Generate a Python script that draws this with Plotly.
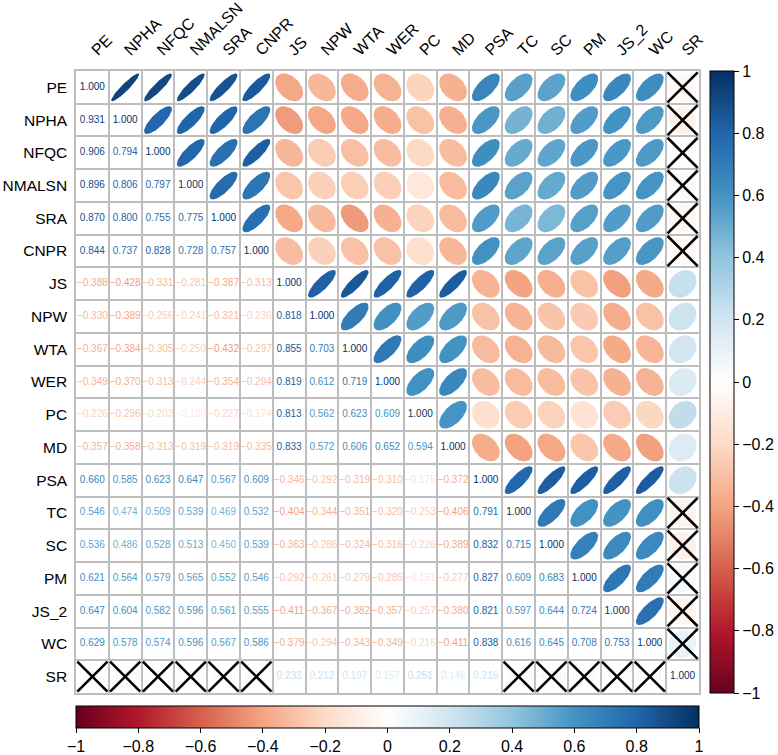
import numpy as np
import plotly.graph_objects as go

labels = ["PE", "NPHA", "NFQC", "NMALSN", "SRA", "CNPR", "JS", "NPW", "WTA",
          "WER", "PC", "MD", "PSA", "TC", "SC", "PM", "JS_2", "WC", "SR"]

# lower triangle of the correlation matrix, one row per variable
r_npha = [0.931]
r_nfqc = [0.906, 0.794]
r_nmalsn = [0.896, 0.806, 0.797]
r_sra = [0.870, 0.800, 0.755, 0.775]
r_cnpr = [0.844, 0.737, 0.828, 0.728, 0.757]
r_js = [-0.388, -0.428, -0.331, -0.281, -0.387, -0.313]
r_npw = [-0.330, -0.389, -0.256, -0.241, -0.321, -0.236, 0.818]
r_wta = [-0.367, -0.384, -0.305, -0.250, -0.432, -0.297, 0.855, 0.703]
r_wer = [-0.349, -0.370, -0.313, -0.244, -0.354, -0.294, 0.819, 0.612, 0.719]
r_pc = [-0.226, -0.296, -0.203, -0.130, -0.227, -0.174, 0.813, 0.562, 0.623, 0.609]
r_md = [-0.357, -0.358, -0.313, -0.319, -0.319, -0.335, 0.833, 0.572, 0.606, 0.652, 0.594]
r_psa = [0.660, 0.585, 0.623, 0.647, 0.567, 0.609, -0.346, -0.292, -0.319, -0.310,
         -0.175, -0.372]
r_tc = [0.546, 0.474, 0.509, 0.539, 0.469, 0.532, -0.404, -0.344, -0.351, -0.320,
        -0.253, -0.406, 0.791]
r_sc = [0.536, 0.486, 0.528, 0.513, 0.450, 0.539, -0.363, -0.286, -0.324, -0.316,
        -0.226, -0.389, 0.832, 0.715]
r_pm = [0.621, 0.564, 0.579, 0.565, 0.552, 0.546, -0.292, -0.261, -0.279, -0.285,
        -0.151, -0.277, 0.827, 0.609, 0.683]
r_js2 = [0.647, 0.604, 0.582, 0.596, 0.561, 0.555, -0.411, -0.367, -0.382, -0.357,
         -0.257, -0.380, 0.821, 0.597, 0.644, 0.724]
r_wc = [0.629, 0.578, 0.574, 0.596, 0.567, 0.586, -0.379, -0.294, -0.343, -0.349,
        -0.216, -0.411, 0.838, 0.616, 0.645, 0.708, 0.753]
r_sr = [-0.041, -0.079, 0.021, 0.033, -0.052, -0.038, 0.233, 0.212, 0.197, 0.157,
        0.251, 0.146, 0.216, -0.069, -0.081, 0.036, -0.058, 0.101]

lower_rows = [[], r_npha, r_nfqc, r_nmalsn, r_sra, r_cnpr, r_js, r_npw, r_wta, r_wer,
              r_pc, r_md, r_psa, r_tc, r_sc, r_pm, r_js2, r_wc, r_sr]

# pairs that are not significant (crossed out)
insig_sr = ["PE", "NPHA", "NFQC", "NMALSN", "SRA", "CNPR", "TC", "SC", "PM", "JS_2", "WC"]

cbar_ticks = [-1, -0.8, -0.6, -0.4, -0.2, 0, 0.2, 0.4, 0.6, 0.8, 1]

RDBU = ["#67001F", "#B2182B", "#D6604D", "#F4A582", "#FDDBC7", "#FFFFFF",
        "#D1E5F0", "#92C5DE", "#4393C3", "#2166AC", "#053061"]


def hex_rgb(h):
    return [int(h[k:k + 2], 16) for k in (1, 3, 5)]


def col(v):
    t = (v + 1) / 2 * 10
    i = min(int(t), 9)
    f = t - i
    a, b = hex_rgb(RDBU[i]), hex_rgb(RDBU[i + 1])
    c = [round(a[k] + (b[k] - a[k]) * f) for k in range(3)]
    return f"rgb({c[0]},{c[1]},{c[2]})"


def fmt(v):
    s = f"{v:.3f}"
    return s.replace("-", "\u2212")


n = len(labels)
m = np.eye(n)
for i, row in enumerate(lower_rows):
    for j, v in enumerate(row):
        m[i, j] = v
        m[j, i] = v

sr = labels.index("SR")
insig = [(sr, labels.index(l)) for l in insig_sr]

fig = go.Figure()

# ellipses in the upper triangle
k = np.linspace(0, 2 * np.pi, 99)
for i in range(n):
    for j in range(i + 1, n):
        r = m[i, j]
        a = np.arccos(r)
        cy = n - 1 - i
        fig.add_scatter(
            x=j + 0.85 * np.cos(k + a / 2) / 2,
            y=cy + 0.85 * np.cos(k - a / 2) / 2,
            mode="lines",
            fill="toself",
            fillcolor=col(r),
            line=dict(width=0, color=col(r)),
            hoverinfo="skip",
            showlegend=False,
        )

# numbers in the lower triangle
tx, ty, tt, tc = [], [], [], []
for i in range(n):
    for j in range(i + 1):
        tx.append(j)
        ty.append(n - 1 - i)
        tt.append(fmt(m[i, j]))
        tc.append(col(m[i, j]))
fig.add_scatter(
    x=tx, y=ty, text=tt, mode="text",
    textfont=dict(family="Liberation Sans", size=10, color=tc),
    hoverinfo="skip", showlegend=False,
)

# crosses on insignificant cells
xx, xy = [], []
d = 0.46
for i, j in insig:
    for a, b in ((i, j), (j, i)):
        cx, cy = b, n - 1 - a
        xx += [cx - d, cx + d, None, cx - d, cx + d, None]
        xy += [cy - d, cy + d, None, cy + d, cy - d, None]
fig.add_scatter(
    x=xx, y=xy, mode="lines", line=dict(color="black", width=2.6),
    hoverinfo="skip", showlegend=False,
)

scale = [[q / 10, c] for q, c in enumerate(RDBU)]
tick_text = [f"{t:g}".replace("-", "\u2212") for t in cbar_ticks]
cb_font = dict(family="Liberation Sans", size=16, color="black")

# vertical colour bar on the right
fig.add_scatter(
    x=[0], y=[n - 1], mode="markers",
    marker=dict(size=0, opacity=0, color=[0], colorscale=scale, cmin=-1, cmax=1,
                showscale=True,
                colorbar=dict(
                    x=1.0177, xanchor="left", y=0.5, yanchor="middle",
                    xpad=0, ypad=0,
                    len=622, lenmode="pixels", thickness=24,
                    outlinecolor="black", outlinewidth=1,
                    tickvals=cbar_ticks, ticktext=tick_text, ticks="outside",
                    ticklen=5, tickcolor="black", tickfont=cb_font,
                )),
    hoverinfo="skip", showlegend=False,
)

# horizontal colour bar below
fig.add_scatter(
    x=[0], y=[n - 1], mode="markers",
    marker=dict(size=0, opacity=0, color=[0], colorscale=scale, cmin=-1, cmax=1,
                showscale=True,
                colorbar=dict(
                    orientation="h", x=0, xanchor="left", y=-0.021, yanchor="top",
                    xpad=0, ypad=0,
                    len=623, lenmode="pixels", thickness=22,
                    outlinecolor="black", outlinewidth=1,
                    tickvals=cbar_ticks, ticktext=tick_text, ticks="outside",
                    ticklen=5, tickcolor="black", tickfont=cb_font,
                )),
    hoverinfo="skip", showlegend=False,
)

grid = dict(tickvals=[q - 0.5 for q in range(n + 1)], showgrid=True,
            gridcolor="#BEBEBE", gridwidth=1.5)
label_font = dict(family="Liberation Sans", size=15.5, color="black")

fig.update_xaxes(
    range=[-0.5, n - 0.5], side="top", tickvals=list(range(n)), ticktext=labels,
    tickangle=-45, tickfont=dict(family="Liberation Sans", size=16, color="black"),
    showgrid=False, zeroline=False,
    ticks="", minor=grid, showline=True, mirror=True, linecolor="#BEBEBE",
    linewidth=1.5, ticklabelstandoff=4, automargin=False,
)
fig.update_yaxes(
    range=[-0.5, n - 0.5], tickvals=list(range(n)), ticktext=labels[::-1],
    tickfont=label_font, showgrid=False, zeroline=False, ticks="", minor=grid,
    showline=True, mirror=True, linecolor="#BEBEBE", linewidth=1.5,
    ticklabelstandoff=4, automargin=False,
)

fig.update_layout(
    width=778,
    height=755,
    margin=dict(l=76, r=79, t=71, b=62, autoexpand=False),
    plot_bgcolor="white",
    paper_bgcolor="white",
    showlegend=False,
)

# drop the browser's default body margin so the figure fills the window
fig.write_html("out.html", config={"displayModeBar": False},
               post_script="document.body.style.margin='0';")
